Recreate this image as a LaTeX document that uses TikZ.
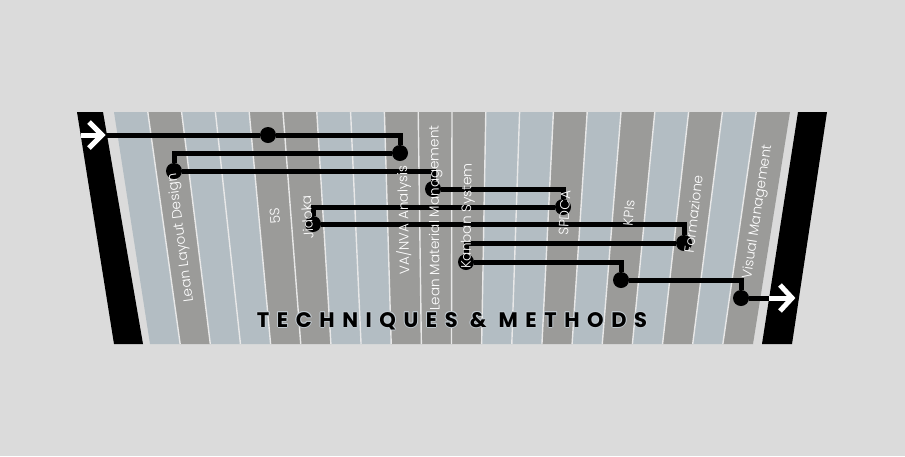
\documentclass[tikz,border=0pt]{standalone}
\usepackage{fontspec}
\newfontfamily\labfont{Poppins Light}
\newfontfamily\titfont[LetterSpace=36]{Poppins}
\definecolor{bgc}{RGB}{219,219,219}
\definecolor{sb}{RGB}{179,189,195}
\definecolor{sg}{RGB}{155,155,153}
\definecolor{sepc}{RGB}{232,232,232}
\definecolor{haloc}{RGB}{192,200,206}
\begin{document}
\begin{tikzpicture}[x=1pt,y=-1pt,
  sep/.style={draw=sepc,line width=1.4pt},
  bar/.style={fill=black},
  metro/.style={line width=5pt,draw=black},
  station/.style={circle,fill=black,inner sep=0pt,minimum size=16pt},
  lab/.style={text=white,font=\labfont\fontsize{13.6}{14}\selectfont,inner sep=0pt},
  arrw/.style={draw=white,line width=5pt,miter limit=10},
  ttl/.style={font=\titfont\bfseries\fontsize{21}{24}\selectfont,inner sep=0pt,anchor=base}
]
\useasboundingbox (0,0) rectangle (905,456);
\fill[bgc] (0,0) rectangle (905,456);
% stripes
\foreach \k/\c in {1/sb,2/sg,3/sb,4/sb,5/sg,6/sg,7/sb,8/sb,9/sg,10/sg,11/sg,12/sb,13/sb,14/sg,15/sb,16/sg,17/sb,18/sg,19/sb,20/sg}
  \fill[\c] ({114+33.8*(\k-1)},112) -- ({114+33.8*\k},112) -- ({150+30.15*\k},344) -- ({150+30.15*(\k-1)},344) -- cycle;
\foreach \i in {1,...,19}
  \draw[sep] ({114+33.8*\i},112) -- ({150+30.15*\i},344);
% side bars
\fill[bar] (77,112) -- (103,112) -- (143,344) -- (114,344) -- cycle;
\fill[bar] (798,112) -- (827,112) -- (792,344) -- (762,344) -- cycle;
% stations
\coordinate (startpt) at (81,135);
\coordinate (endpt) at (797,298);
\node[station] (s5S) at (268,135) {};
\node[station] (sVA) at (400,153) {};
\node[station] (sLLD) at (174,171) {};
\node[station] (sLMM) at (433,189) {};
\node[station] (sSP) at (563,207) {};
\node[station] (sJI) at (313,224) {};
\node[station] (sFO) at (684,243) {};
\node[station] (sKA) at (466,262) {};
\node[station] (sKP) at (621,280) {};
\node[station] (sVM) at (741,298) {};
\draw[metro] (startpt) -- (s5S) -| (sVA) -| (sLLD) -| (sLMM) -| (sSP) -| (sJI) -| (sFO) -| (sKA) -| (sKP) -| (sVM) -- (endpt);
% arrows
\draw[arrw] (startpt) -- (99,135);
\draw[arrw] (89,122) -- (102,135) -- (89,148);
\draw[arrw] (769,298) -- (789,298);
\draw[arrw] (780,285) -- (792,298) -- (780,311);
% labels
\foreach \k/\yc/\t/\nm in {2/238/{Lean Layout Design}/lLLD,5/216/{5S}/l5S,6/217/{Jidoka}/lJI,9/220/{VA/NVA Analysis}/lVA,10/218/{Lean Material Management}/lLMM,11/216/{Kanban System}/lKA,14/213/{SPDCA}/lSP,16/213/{KPIs}/lKP,18/214/{Formazione}/lFO,20/212/{Visual Management}/lVM}{
  \pgfmathsetmacro\tc{114+33.8*(\k-0.5)}
  \pgfmathsetmacro\bc{150+30.15*(\k-0.5)}
  \pgfmathsetmacro\xc{\tc+(\yc-112)/232*(\bc-\tc)}
  \pgfmathsetmacro\ang{atan2(232,\tc-\bc)}
  \node[lab,rotate=\ang] (\nm) at (\xc,\yc) {\t};
}
% title
\foreach \dx/\dy in {-1/0,1/0,0/-1,0/1,-0.7/-0.7,0.7/-0.7,-0.7/0.7,0.7/0.7}
  \node[ttl,text=haloc] at (452+\dx,327+\dy) {TECHNIQUES \& METHODS};
\node[ttl] (title) at (452,327) {TECHNIQUES \& METHODS};
\end{tikzpicture}
\end{document}
